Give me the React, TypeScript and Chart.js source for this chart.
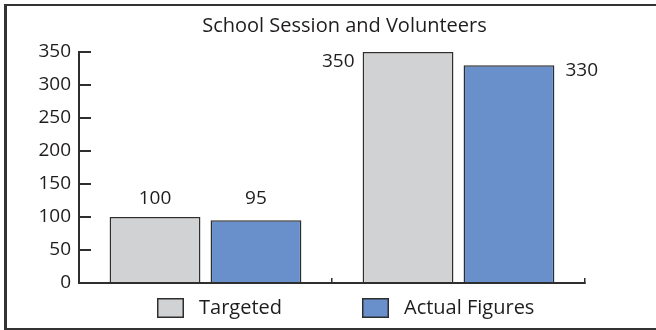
import React, { useEffect, useRef } from "react";
import { Chart, registerables } from "chart.js";

Chart.register(...registerables);

const titleText = "School Session and Volunteers";
const categories = ["School Session", "Volunteers"];
const seriesNames = ["Targeted", "Actual Figures"];
const targeted = [100, 350];
const actualFigures = [95, 330];
const yTickValues = [0, 50, 100, 150, 200, 250, 300, 350];

const FONT = "'Open Sans', 'Noto Sans', sans-serif";
const TEXT = "#1f1c1d";
const LINE = "#2e2e2e";
const GRAY = "#d1d2d4";
const BLUE = "#6990cb";

const decor = {
  id: "decor",
  beforeDraw(chart: any) {
    const ctx = chart.ctx;
    ctx.save();
    ctx.fillStyle = "#ffffff";
    ctx.fillRect(0, 0, chart.width, chart.height);
    ctx.restore();
  },
  afterDraw(chart: any) {
    const ctx = chart.ctx;
    const area = chart.chartArea;
    ctx.save();
    // frame
    ctx.fillStyle = "#333333";
    ctx.fillRect(4, 4, 3, chart.height - 4);
    ctx.fillRect(4, 4, chart.width - 4, 2);
    ctx.fillRect(4, chart.height - 2, chart.width - 4, 2);

    // title
    ctx.fillStyle = TEXT;
    ctx.font = `20px ${FONT}`;
    ctx.textAlign = "center";
    ctx.textBaseline = "middle";
    ctx.fillText(titleText, 344.5, 26);

    // value labels
    chart.data.datasets.forEach((ds: any, di: number) => {
      const meta = chart.getDatasetMeta(di);
      meta.data.forEach((bar: any, i: number) => {
        const v = ds.data[i];
        const half = bar.width / 2;
        ctx.font = `19px ${FONT}`;
        ctx.textBaseline = "middle";
        if (bar.y - area.top < 25) {
          if (di === 0) {
            ctx.textAlign = "right";
            ctx.fillText(String(v), bar.x - half - 8, bar.y + 10);
          } else {
            ctx.textAlign = "left";
            ctx.fillText(String(v), bar.x + half + 11, bar.y + 5);
          }
        } else {
          ctx.textAlign = "center";
          ctx.fillText(String(v), bar.x, 198.5);
        }
      });
    });

    // legend
    let x = 157;
    const cy = 308;
    chart.data.datasets.forEach((ds: any, di: number) => {
      ctx.fillStyle = ds.backgroundColor;
      ctx.fillRect(x, cy - 10, 27, 20);
      ctx.strokeStyle = LINE;
      ctx.lineWidth = 1.5;
      ctx.strokeRect(x + 0.75, cy - 10 + 0.75, 25.5, 18.5);
      ctx.fillStyle = TEXT;
      ctx.font = `20px ${FONT}`;
      ctx.textAlign = "left";
      ctx.textBaseline = "middle";
      ctx.fillText(ds.label, x + 42, cy);
      const w = ctx.measureText(ds.label).width;
      x = x + 42 + w + 80;
    });
    ctx.restore();
  },
};

export default function App() {
  const ref = useRef<HTMLCanvasElement | null>(null);
  useEffect(() => {
    document.body.style.margin = "0";
    const canvas = ref.current!;
    const chart = new Chart(canvas, {
      type: "bar",
      data: {
        labels: categories,
        datasets: [
          {
            label: seriesNames[0],
            data: targeted,
            backgroundColor: GRAY,
            borderColor: LINE,
            borderWidth: 1.5,
          },
          {
            label: seriesNames[1],
            data: actualFigures,
            backgroundColor: BLUE,
            borderColor: LINE,
            borderWidth: 1.5,
          },
        ],
      },
      options: {
        responsive: false,
        animation: false,
        devicePixelRatio: 1,
        categoryPercentage: 0.798,
        barPercentage: 0.9,
        layout: { padding: { left: 0, top: 52, right: 71, bottom: 47 } },
        plugins: {
          legend: { display: false },
          title: { display: false },
          tooltip: { enabled: false },
        },
        scales: {
          x: {
            type: "category",
            offset: true,
            grid: {
              display: true,
              offset: true,
              drawOnChartArea: false,
              drawTicks: true,
              tickLength: -5,
              color: LINE,
              lineWidth: 1.5,
            },
            border: { display: true, color: LINE, width: 2 },
            ticks: { display: false },
            afterFit(scale: any) {
              scale.height = 0;
            },
          },
          y: {
            min: 0,
            max: 350,
            afterBuildTicks(scale: any) {
              scale.ticks = yTickValues.map((v) => ({ value: v }));
            },
            grid: {
              display: true,
              drawOnChartArea: false,
              drawTicks: true,
              tickLength: -12,
              color: LINE,
              lineWidth: 2,
            },
            border: { display: true, color: LINE, width: 2 },
            ticks: {
              padding: 20,
              color: TEXT,
              font: { family: FONT, size: 19 },
            },
            afterFit(scale: any) {
              scale.width = 79;
            },
          },
        },
      },
      plugins: [decor],
    });
    return () => chart.destroy();
  }, []);
  return (
    <canvas
      ref={ref}
      width={656}
      height={330}
      style={{ display: "block", width: 656, height: 330 }}
    />
  );
}
